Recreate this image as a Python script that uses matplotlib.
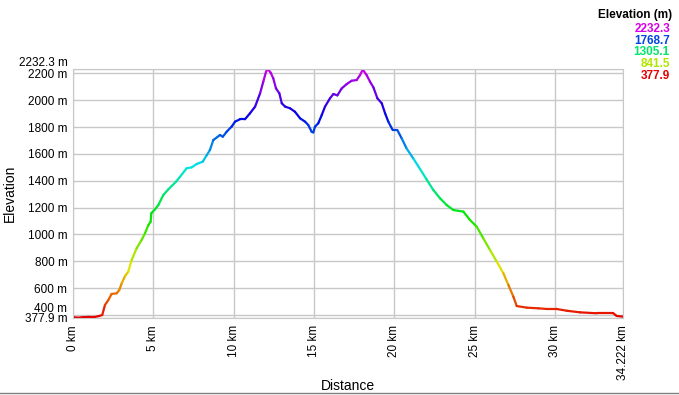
import matplotlib
matplotlib.use('Agg')
import matplotlib.pyplot as plt
import numpy as np
from matplotlib.collections import LineCollection
from matplotlib.colors import Normalize
from matplotlib.lines import Line2D
from matplotlib.transforms import ScaledTranslation

plt.rcParams['font.family'] = ['Liberation Sans', 'DejaVu Sans']

# elevation profile
distance_km = [0.0, 0.3, 0.6, 1.0, 1.37, 1.6, 1.82, 1.99, 2.2, 2.4, 2.72, 2.88,
               3.03, 3.24, 3.44, 3.65, 3.96, 4.27, 4.48, 4.69, 4.83, 4.87, 5.1,
               5.31, 5.62, 5.93, 6.41, 6.66, 7.07, 7.39, 7.7, 8.07, 8.32, 8.52,
               8.73, 9.15, 9.32, 9.56, 9.87, 10.08, 10.39, 10.7, 11.01, 11.33,
               11.64, 11.84, 12.01, 12.12, 12.3, 12.46, 12.63, 12.84, 12.99,
               13.2, 13.5, 13.81, 14.13, 14.44, 14.64, 14.85, 14.95, 15.06,
               15.26, 15.48, 15.68, 15.99, 16.2, 16.45, 16.72, 17.03, 17.34,
               17.65, 17.86, 18.03, 18.27, 18.48, 18.69, 18.94, 19.21, 19.42,
               19.62, 19.89, 20.18, 20.45, 20.76, 21.18, 21.59, 22.0, 22.42,
               22.84, 23.25, 23.67, 24.29, 24.7, 25.12, 25.53, 25.95, 26.37,
               26.78, 27.09, 27.4, 27.61, 28.23, 28.96, 29.48, 30.1, 30.72,
               31.55, 32.59, 33.62, 33.83, 34.222]
elevation_m = [385, 380, 384, 386, 386, 392, 400, 475, 512, 557, 562, 586,
               636, 691, 723, 810, 897, 959, 1009, 1070, 1095, 1158, 1187,
               1219, 1294, 1336, 1393, 1430, 1493, 1500, 1525, 1542, 1590, 1629,
               1703, 1741, 1728, 1765, 1803, 1840, 1858, 1858, 1902, 1952,
               2051, 2138, 2212, 2232, 2205, 2163, 2088, 2051, 1977,
               1952, 1940, 1914, 1865, 1840, 1815, 1765, 1760, 1803,
               1828, 1890, 1952, 2014, 2046, 2036, 2088, 2120, 2145,
               2150, 2187, 2228, 2187, 2138, 2096, 2014, 1977, 1902,
               1840, 1778, 1778, 1716, 1640, 1565, 1488, 1410, 1331,
               1269, 1219, 1182, 1170, 1108, 1058, 971, 884, 797,
               711, 624, 537, 467, 455, 450, 445, 445, 432,
               420, 413, 413, 393, 388]

elev_min, elev_max = 377.9, 2232.3
total_km = 34.222
y_ticks = [377.9, 400, 600, 800, 1000, 1200, 1400, 1600, 1800, 2000, 2200, 2232.3]
y_labels = ['377.9 m', '400 m', '600 m', '800 m', '1000 m', '1200 m', '1400 m',
            '1600 m', '1800 m', '2000 m', '2200 m', '2232.3 m']
x_ticks = [0, 5, 10, 15, 20, 25, 30, 34.222]
x_labels = ['0 km', '5 km', '10 km', '15 km', '20 km', '25 km', '30 km', '34.222 km']
legend_values = [2232.3, 1768.7, 1305.1, 841.5, 377.9]

# hue runs red (low) -> magenta (high)
norm = Normalize(vmin=elev_min, vmax=elev_min + (elev_max - elev_min) * 360 / 300)


def elev_color(v):
    r, g, b, a = plt.cm.hsv(norm(v))
    return (r * 0.9, g * 0.9, b * 0.9)


fig = plt.figure(figsize=(6.79, 3.95), dpi=100)
ax = fig.add_axes([73 / 679, 1 - 318 / 395, 550 / 679, 249 / 395])

x = np.array(distance_km)
y = np.array(elevation_m, dtype=float)
pts = np.column_stack([x, y]).reshape(-1, 1, 2)
segs = np.concatenate([pts[:-1], pts[1:]], axis=1)
seg_colors = [elev_color(v) for v in (y[:-1] + y[1:]) / 2]
ax.add_collection(LineCollection(segs, colors=seg_colors, linewidths=1.6,
                                 capstyle='round', joinstyle='round'))

ax.set_xlim(0, total_km)
ax.set_ylim(elev_min, elev_max)
ax.set_xticks(x_ticks)
ax.set_xticklabels(x_labels, rotation=90, fontsize=8.5)
ax.set_yticks(y_ticks)
ax.set_yticklabels(y_labels, fontsize=8.5)
ax.tick_params(length=0, pad=4)
ax.tick_params(axis='x', pad=5)
ax.grid(True, color='#c8c8c8', linewidth=1)
ax.set_axisbelow(True)
for s in ax.spines.values():
    s.set_color('#c8c8c8')

# nudge the crowded labels apart
lbls = ax.get_yticklabels()
lbls[1].set_transform(lbls[1].get_transform() + ScaledTranslation(0, 8 / 100, fig.dpi_scale_trans))
lbls[-1].set_transform(lbls[-1].get_transform() + ScaledTranslation(0, 7 / 100, fig.dpi_scale_trans))

ax.set_xlabel('Distance', fontsize=10, labelpad=2)
fig.text(10 / 679, 1 - 193 / 395, 'Elevation', rotation=90, fontsize=10,
         ha='center', va='center')
ax.xaxis.set_label_coords(0.5, -(386 - 318) / 249)
ax.xaxis.label.set_va('center')

# colour legend
fig.text(672 / 679, 1 - 15 / 395, 'Elevation (m)', ha='right', va='center',
         fontsize=8.5, fontweight='bold')
for i, v in enumerate(legend_values):
    fig.text(670 / 679, 1 - (29 + 11.7 * i) / 395, f'{v:.1f}', ha='right',
             va='center', fontsize=8.5, fontweight='bold', color=elev_color(v))

fig.add_artist(Line2D([0, 1], [1 - 393 / 395] * 2, transform=fig.transFigure,
                      color='#808080', linewidth=1))

fig.savefig('out.png', dpi=100)
